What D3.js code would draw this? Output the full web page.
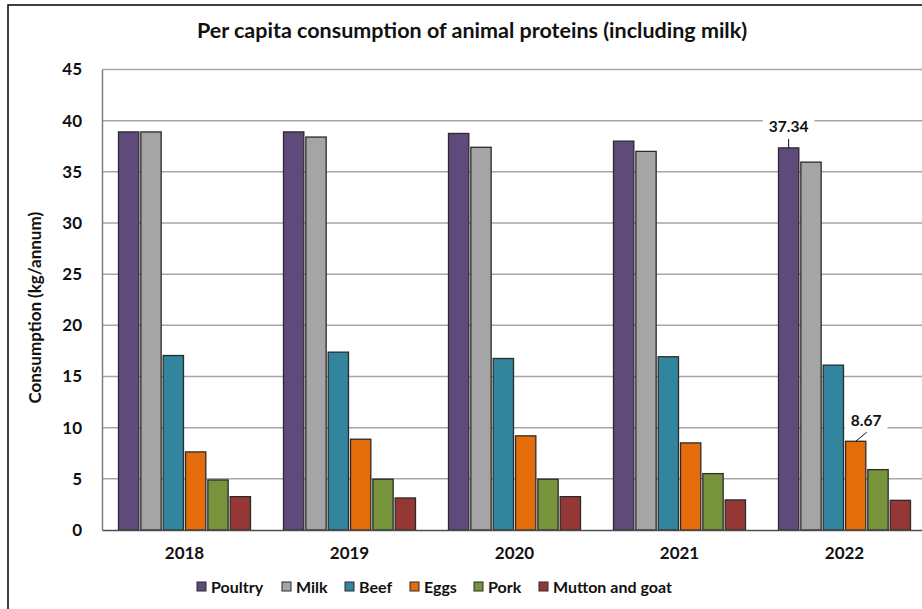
<!DOCTYPE html>
<html>
<head>
<meta charset="utf-8">
<script src="https://cdn.jsdelivr.net/npm/d3@7"></script>
<style>
  html, body { margin: 0; padding: 0; background: #fff; }
  svg { display: block; font-family: Lato, "Open Sans", sans-serif; }
</style>
</head>
<body>
<svg id="chart" width="922" height="609"></svg>
<script>
// Per capita consumption of animal proteins, kg per person per year
const years = ["2018", "2019", "2020", "2021", "2022"];
const seriesNames = ["Poultry", "Milk", "Beef", "Eggs", "Pork", "Mutton and goat"];
const poultry = [38.9, 38.9, 38.75, 38.0, 37.34];
const milk    = [38.9, 38.4, 37.4, 37.0, 35.95];
const beef    = [17.05, 17.38, 16.76, 16.93, 16.11];
const eggs    = [7.63, 8.87, 9.2, 8.51, 8.67];
const pork    = [4.89, 4.96, 4.96, 5.51, 5.9];
const mutton  = [3.26, 3.13, 3.26, 2.94, 2.9];
const yTicks  = [0, 5, 10, 15, 20, 25, 30, 35, 40, 45];
const colors  = ["#604a7b", "#a5a5a5", "#31859c", "#e46c0a", "#77933c", "#953735"];

const values = [poultry, milk, beef, eggs, pork, mutton];
const rows = years.map((y, i) => ({
  year: y,
  items: seriesNames.map((s, j) => ({ series: s, value: values[j][i] }))
}));

const svg = d3.select("#chart");
const FONT = "Lato, 'Open Sans', sans-serif";

// outer chart frame
svg.append("rect")
  .attr("x", 8).attr("y", 5)
  .attr("width", 940).attr("height", 640)
  .attr("fill", "#fff")
  .attr("stroke", "#000").attr("stroke-width", 1.5);

const plot = { left: 102, right: 927, top: 69.5, bottom: 530 };

const x0 = d3.scaleBand().domain(years).range([plot.left, plot.right]).paddingInner(0).paddingOuter(0);
const x1 = d3.scaleBand().domain(seriesNames)
  .range([x0.bandwidth() * 0.1, x0.bandwidth() * 0.9]).paddingInner(0.09);
const y = d3.scaleLinear().domain([0, 45]).range([plot.bottom, plot.top]);
const color = d3.scaleOrdinal().domain(seriesNames).range(colors);

// title
svg.append("text")
  .attr("x", 472).attr("y", 38)
  .attr("text-anchor", "middle")
  .attr("font-size", 21.5).attr("font-weight", "bold").attr("fill", "#111")
  .text("Per capita consumption of animal proteins (including milk)");

// horizontal gridlines
svg.append("g")
  .selectAll("line")
  .data(yTicks.filter(t => t > 0))
  .join("line")
  .attr("x1", plot.left).attr("x2", plot.right)
  .attr("y1", d => y(d)).attr("y2", d => y(d))
  .attr("stroke", "#a6a6a6").attr("stroke-width", 1.5);

// y axis
const yAxis = svg.append("g")
  .attr("transform", `translate(${plot.left},0)`)
  .call(d3.axisLeft(y).tickValues(yTicks).tickSize(0).tickPadding(20));
yAxis.select(".domain").attr("stroke", "#7f7f7f").attr("stroke-width", 1.5);
yAxis.selectAll("text")
  .attr("font-size", 17).attr("font-weight", "bold").attr("fill", "#111")
  .attr("font-family", FONT);

// y axis title
svg.append("text")
  .attr("transform", `translate(41,${(plot.top + plot.bottom) / 2 + 8}) rotate(-90)`)
  .attr("text-anchor", "middle")
  .attr("font-size", 17).attr("font-weight", "bold").attr("fill", "#111")
  .text("Consumption (kg/annum)");

// bars
const groups = svg.append("g")
  .selectAll("g")
  .data(rows)
  .join("g")
  .attr("transform", d => `translate(${x0(d.year)},0)`);

groups.selectAll("rect")
  .data(d => d.items)
  .join("rect")
  .attr("x", d => x1(d.series))
  .attr("width", x1.bandwidth())
  .attr("y", d => y(d.value))
  .attr("height", d => y(0) - y(d.value))
  .attr("fill", d => color(d.series))
  .attr("stroke", "#2b2b2b").attr("stroke-width", 1.3);

// x axis
const xAxis = svg.append("g")
  .attr("transform", `translate(0,${plot.bottom})`)
  .call(d3.axisBottom(x0).tickSize(0).tickPadding(17));
xAxis.select(".domain").attr("stroke", "#4d4d4d").attr("stroke-width", 1.5);
xAxis.selectAll("text")
  .attr("font-size", 17).attr("font-weight", "bold").attr("fill", "#111")
  .attr("font-family", FONT);

// value callouts for 2022
const callouts = [
  { year: "2022", series: "Poultry", value: poultry[4], dx: 0, dy: -16, lineFrom: [0, -9] },
  { year: "2022", series: "Eggs", value: eggs[4], dx: 10.5, dy: -15, lineFrom: [11, -9] }
];
callouts.forEach(c => {
  const bx = x0(c.year) + x1(c.series) + x1.bandwidth() / 2;
  const by = y(c.value);
  const lx = bx + c.dx, ly = by + c.dy;
  const label = svg.append("text")
    .attr("x", lx).attr("y", ly)
    .attr("text-anchor", "middle")
    .attr("font-size", 15.5).attr("font-weight", "bold").attr("fill", "#111")
    .text(c.value.toFixed(2));
  const bb = label.node().getBBox();
  svg.insert("rect", () => label.node())
    .attr("x", bb.x - 6).attr("y", bb.y - 1)
    .attr("width", bb.width + 12).attr("height", bb.height + 2)
    .attr("fill", "#fff");
  svg.append("line")
    .attr("x1", bx + c.lineFrom[0]).attr("y1", by + c.lineFrom[1])
    .attr("x2", bx).attr("y2", by)
    .attr("stroke", "#111").attr("stroke-width", 1);
});

// legend
const legendX = [197, 282, 345, 410, 474, 539];
const legend = svg.append("g")
  .selectAll("g")
  .data(seriesNames)
  .join("g")
  .attr("transform", (d, i) => `translate(${legendX[i]},587)`);
legend.append("rect")
  .attr("x", 0).attr("y", -5)
  .attr("width", 9).attr("height", 9)
  .attr("fill", d => color(d))
  .attr("stroke", "#2b2b2b").attr("stroke-width", 1);
legend.append("text")
  .attr("x", 14).attr("y", 6)
  .attr("font-size", 16).attr("font-weight", "bold").attr("fill", "#111")
  .text(d => d);
</script>
</body>
</html>
